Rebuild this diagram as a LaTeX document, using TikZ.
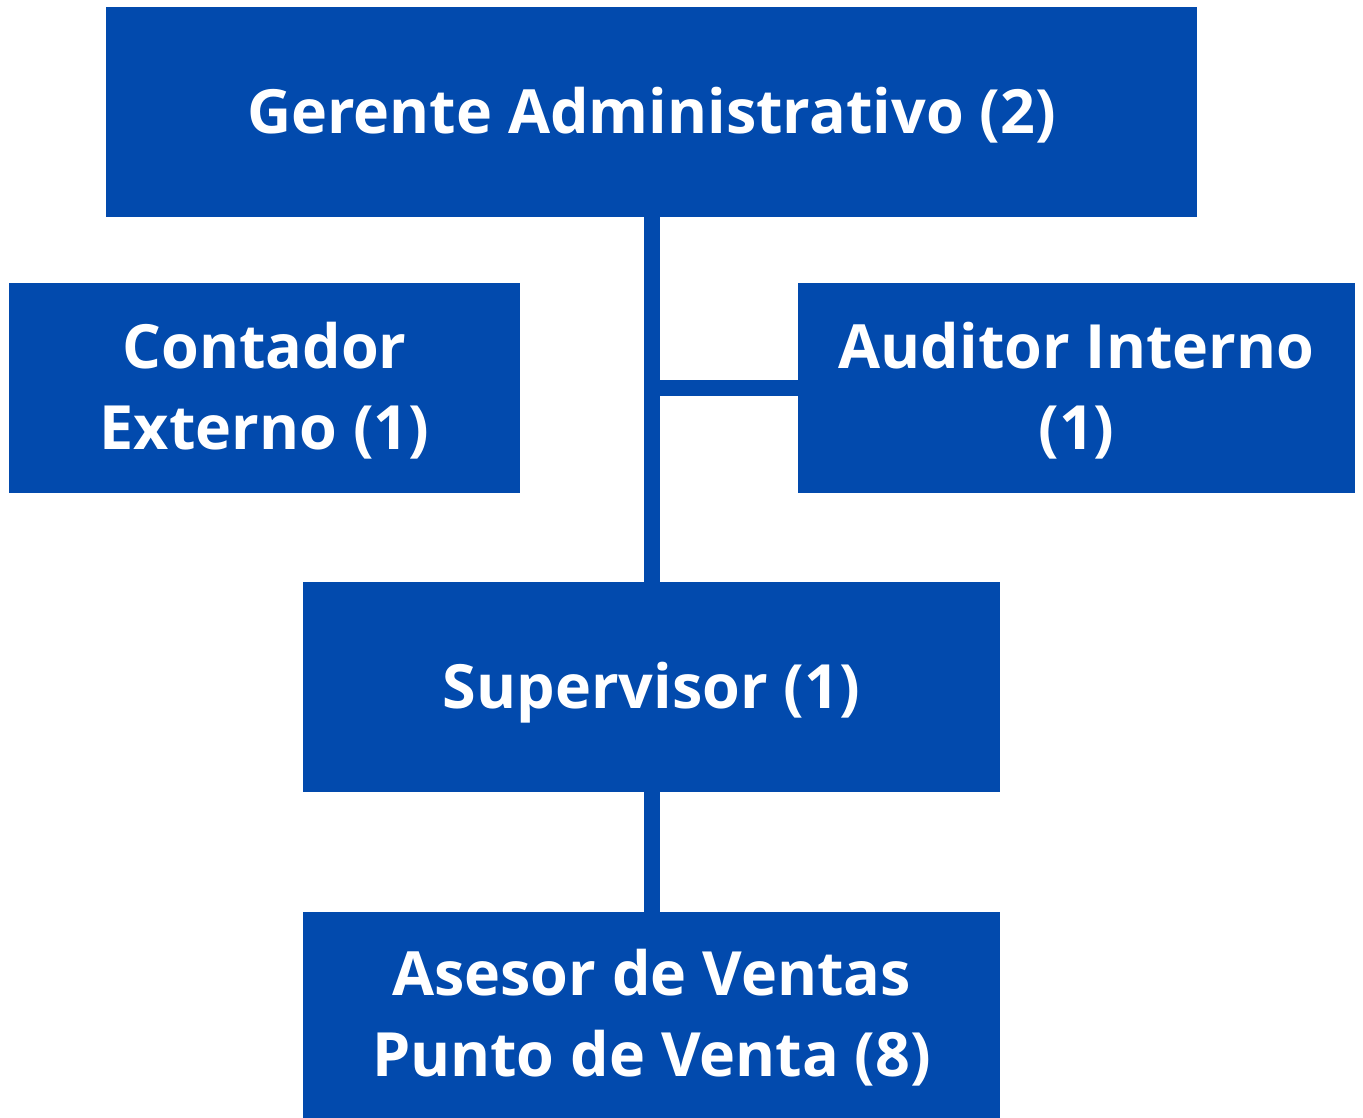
\documentclass[tikz,border=0pt]{standalone}
\usepackage{fontspec}
\setmainfont{Open Sans}
\usetikzlibrary{positioning}
\definecolor{orgblue}{HTML}{024AAD}
\tikzset{
  orgbox/.style={fill=orgblue,text=white,font=\fontsize{61}{81}\selectfont\bfseries,align=center,inner sep=0pt,text depth=4pt,minimum height=210pt},
  orgline/.style={draw=orgblue,line width=16pt}
}
\begin{document}
\begin{tikzpicture}[x=1pt,y=-1pt]
\useasboundingbox (0,0) rectangle (1363,1118);
\node[orgbox,minimum width=1091pt] (ger) at (651.5,112) {Gerente Administrativo (2)};
\node[orgbox,minimum width=511pt] (cont) at (264.5,388) {Contador\\Externo (1)};
\node[orgbox,minimum width=557pt] (aud) at (1076.5,388) {Auditor Interno\\(1)};
\node[orgbox,minimum width=697pt] (sup) at (651.5,687) {Supervisor (1)};
\node[orgbox,minimum width=697pt,minimum height=206pt] (ase) at (651.5,1015) {Asesor de Ventas\\Punto de Venta (8)};
\draw[orgline] (ger.south) -- (sup.north);
\draw[orgline] (ger.south |- aud.west) -- (aud.west);
\draw[orgline] (sup.south) -- (ase.north);
\end{tikzpicture}
\end{document}
